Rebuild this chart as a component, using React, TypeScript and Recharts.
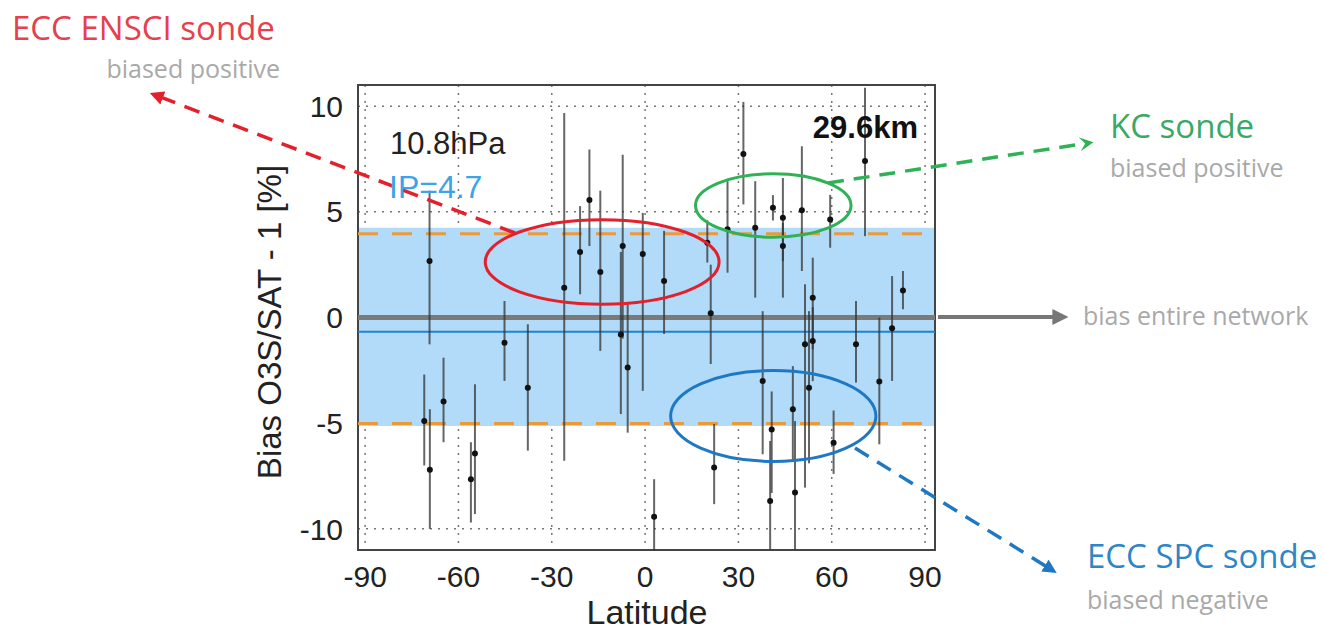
import React from "react";
import {
  ScatterChart,
  Scatter,
  XAxis,
  YAxis,
  CartesianGrid,
  ErrorBar,
  ReferenceArea,
  ReferenceLine,
  ReferenceDot,
} from "recharts";

// station latitude, bias and error bar [down, up]
const latitudes = [
  -69.3, -71, -69.2, -64.8, -54.7, -56, -45.2, -37.7, -26, -20.9, -17.9, -14.4,
  -7.2, -7.8, -5.6, -0.75, 2.9, 6.1, 20, 21.1, 22.2, 26.5, 31.6, 35.4, 37.8,
  40.7, 40.2, 41.1, 44.3, 44.3, 47.5, 48.2, 50.4, 51.4, 53.9, 52.7, 53.9, 59.5,
  60.6, 67.8, 70.7, 75.3, 79.4, 82.9,
];
const biases = [
  2.67, -4.9, -7.2, -3.98, -6.44, -7.65, -1.19, -3.32, 1.41, 3.1, 5.56, 2.15,
  3.38, -0.8, -2.37, 3.0, -9.43, 1.73, 3.54, 0.2, -7.1, 4.17, 7.74, 4.25, -3.0,
  -5.3, -8.68, 5.19, 4.72, 3.38, -4.34, -8.28, 5.07, -1.27, -1.11, -3.32, 0.94,
  4.64, -5.92, -1.27, 7.4, -3.03, -0.51, 1.28,
];
const errDown = [
  3.94, 2.1, 2.8, 1.92, 2.86, 2.05, 1.81, 2.98, 8.19, 2.0, 2.18, 3.73, 4.38,
  3.77, 3.08, 6.47, 1.6, 2.51, 0.94, 2.4, 1.73, 2.05, 2.39, 3.31, 3.47, 3.0,
  2.3, 0.6, 3.78, 0.71, 2.46, 2.72, 2.87, 6.78, 1.9, 3.58, 2.44, 1.34, 1.48,
  1.81, 3.55, 2.97, 2.49, 0.89,
];
const errUp = [
  3.33, 2.2, 2.86, 2.08, 3.28, 1.75, 1.97, 3.0, 8.27, 2.17, 2.39, 3.85, 4.32,
  3.9, 2.99, 1.95, 1.78, 2.37, 1.06, 2.3, 2.06, 2.28, 2.46, 2.2, 3.3, 1.8, 2.84,
  0.6, 1.88, 1.1, 2.04, 3.38, 3.03, 2.84, 1.6, 3.62, 1.89, 1.16, 1.52, 2.05,
  3.47, 3.03, 2.47, 0.92,
];

const xTicks = [-90, -60, -30, 0, 30, 60, 90];
const yTicks = [-10, -5, 0, 5, 10];

const networkBias = 0;
const meanBias = -0.67;
const ipBand = [-5.13, 4.25];
const ipLimits = [-5.02, 3.96];

const data = latitudes.map((lat, i) => ({
  lat,
  bias: biases[i],
  err: [errDown[i], errUp[i]],
}));

const X_DOMAIN: [number, number] = [-92.3, 93.2];
const Y_DOMAIN: [number, number] = [-11, 11];
// px per unit of the plot area, used for sizing the annotation ellipses
const PX_X = 577 / (X_DOMAIN[1] - X_DOMAIN[0]);
const PX_Y = 465 / (Y_DOMAIN[1] - Y_DOMAIN[0]);

const AXIS_FONT = "'Liberation Sans', Arial, sans-serif";
const NOTE_FONT = "'Open Sans', 'Noto Sans', sans-serif";

const ellipse =
  (rxDeg: number, ryPct: number, color: string) => (p: any) =>
    (
      <ellipse
        cx={p.cx}
        cy={p.cy}
        rx={rxDeg * PX_X}
        ry={ryPct * PX_Y}
        fill="none"
        stroke={color}
        strokeWidth={3}
      />
    );

const Dot = (p: any) => <circle cx={p.cx} cy={p.cy} r={3} fill="#111" />;

export default function App() {
  return (
    <div
      style={{
        position: "relative",
        width: 1323,
        height: 632,
        background: "#fff",
        overflow: "hidden",
      }}
    >
      <style>{`body{margin:0}`}</style>
      <ScatterChart
        width={1323}
        height={632}
        margin={{ top: 85, right: 388, bottom: 42, left: 298 }}
      >
        <ReferenceArea
          x1={X_DOMAIN[0]}
          x2={X_DOMAIN[1]}
          y1={ipBand[0]}
          y2={ipBand[1]}
          fill="#b1dbf8"
          fillOpacity={1}
          stroke="none"
        />
        <CartesianGrid
          stroke="#777"
          strokeDasharray="2 6"
          strokeWidth={1.5}
          verticalValues={xTicks}
          horizontalValues={yTicks}
        />
        <XAxis
          type="number"
          dataKey="lat"
          domain={X_DOMAIN}
          ticks={xTicks}
          allowDataOverflow
          tickLine={false}
          axisLine={false}
          tickSize={6}
          tickMargin={10}
          height={40}
          tick={{ fill: "#222", fontSize: 30, fontFamily: AXIS_FONT }}
        />
        <YAxis
          type="number"
          dataKey="bias"
          domain={Y_DOMAIN}
          ticks={yTicks}
          allowDataOverflow
          tickLine={false}
          axisLine={false}
          tickSize={6}
          tickMargin={9}
          width={60}
          tick={{ fill: "#222", fontSize: 30, fontFamily: AXIS_FONT }}
        />
        {ipLimits.map((v) => (
          <ReferenceLine
            key={v}
            y={v}
            stroke="#eb9a3a"
            strokeWidth={3}
            strokeDasharray="20 14"
          />
        ))}
        <ReferenceLine y={networkBias} stroke="#7a7a7a" strokeWidth={5} />
        <ReferenceLine y={meanBias} stroke="#1f82d6" strokeWidth={2} />
        <Scatter data={data} dataKey="bias" shape={Dot} isAnimationActive={false}>
          <ErrorBar
            dataKey="err"
            direction="y"
            width={0}
            stroke="#333"
            strokeOpacity={0.75}
            strokeWidth={2}
            isAnimationActive={false}
          />
        </Scatter>
        <ReferenceArea
          x1={X_DOMAIN[0]}
          x2={X_DOMAIN[1]}
          y1={Y_DOMAIN[0]}
          y2={Y_DOMAIN[1]}
          fill="none"
          stroke="#444"
          strokeWidth={2}
        />
        <ReferenceDot x={-13.8} y={2.63} r={1} shape={ellipse(37.6, 2.0, "#e3202c")} />
        <ReferenceDot x={41.2} y={5.3} r={1} shape={ellipse(25, 1.5, "#2fb256")} />
        <ReferenceDot x={41.2} y={-4.66} r={1} shape={ellipse(33, 2.15, "#1f78c4")} />
      </ScatterChart>

      <svg
        width={1323}
        height={632}
        style={{ position: "absolute", left: 0, top: 0, pointerEvents: "none" }}
      >
        <defs>
          <marker id="ar" viewBox="0 0 10 10" refX="6" refY="5" markerWidth="4" markerHeight="4" orient="auto">
            <path d="M0,0 L10,5 L0,10 z" fill="#e3202c" />
          </marker>
          <marker id="ag" viewBox="0 0 10 10" refX="6" refY="5" markerWidth="4" markerHeight="4" orient="auto">
            <path d="M0,0 L10,5 L0,10 L4,5 z" fill="#2fb256" />
          </marker>
          <marker id="ak" viewBox="0 0 10 10" refX="6" refY="5" markerWidth="4" markerHeight="4" orient="auto">
            <path d="M0,0 L10,5 L0,10 z" fill="#777" />
          </marker>
          <marker id="ab" viewBox="0 0 10 10" refX="6" refY="5" markerWidth="4" markerHeight="4" orient="auto">
            <path d="M0,0 L10,5 L0,10 z" fill="#1f78c4" />
          </marker>
        </defs>
        <line x1={515} y1={233} x2={155} y2={95} stroke="#e3202c" strokeWidth={3.5} strokeDasharray="16 10" markerEnd="url(#ar)" />
        <line x1={828} y1={183} x2={1088} y2={143} stroke="#2fb256" strokeWidth={3.5} strokeDasharray="16 10" markerEnd="url(#ag)" />
        <line x1={938} y1={317} x2={1062} y2={317} stroke="#777" strokeWidth={4} markerEnd="url(#ak)" />
        <line x1={855} y1={448} x2={1052} y2={570} stroke="#1f78c4" strokeWidth={3.5} strokeDasharray="16 10" markerEnd="url(#ab)" />

        <text x={390} y={154} fontFamily={AXIS_FONT} fontSize={31} fill="#222">10.8hPa</text>
        <text x={389} y={198} fontFamily={AXIS_FONT} fontSize={32} fill="#3ba3e6">IP=4.7</text>
        <text x={918} y={138} textAnchor="end" fontFamily={AXIS_FONT} fontSize={31} fontWeight="bold" fill="#111">29.6km</text>

        <text x={647} y={624} textAnchor="middle" fontFamily={AXIS_FONT} fontSize={34} fill="#222">Latitude</text>
        <text
          x={281}
          y={322}
          textAnchor="middle"
          fontFamily={AXIS_FONT}
          fontSize={33}
          fill="#222"
          transform="rotate(-90 281 322)"
        >
          Bias O3S/SAT - 1 [%]
        </text>

        <g fontFamily={NOTE_FONT}>
          <text x={12} y={40} fontSize={33} fill="#e6404c">ECC ENSCI sonde</text>
          <text x={280} y={78} textAnchor="end" fontSize={25} fill="#a9a9a9">biased positive</text>
          <text x={1110} y={138} fontSize={33} fill="#3aa866">KC sonde</text>
          <text x={1110} y={177} fontSize={25} fill="#a9a9a9">biased positive</text>
          <text x={1083} y={325} fontSize={25} fill="#a9a9a9">bias entire network</text>
          <text x={1087} y={568} fontSize={33} fill="#2f86c6">ECC SPC sonde</text>
          <text x={1087} y={609} fontSize={25} fill="#a9a9a9">biased negative</text>
        </g>
      </svg>
    </div>
  );
}
